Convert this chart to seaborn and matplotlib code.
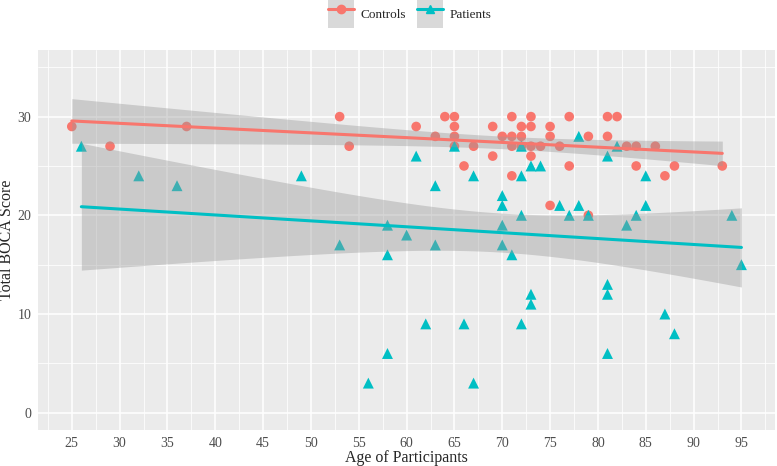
import numpy as np
import pandas as pd
import seaborn as sns
import matplotlib.pyplot as plt
from matplotlib.lines import Line2D
from matplotlib.patches import Patch

# Controls (age, score)
ctrl_age = [25, 29, 37, 53, 54, 61, 63, 64, 65, 65, 65, 65, 66, 67, 69, 69, 70, 71, 71, 71,
            71, 72, 72, 72, 73, 73, 73, 73, 74, 75, 75, 75, 76, 77, 77, 79, 79, 81, 81, 82,
            83, 84, 84, 86, 87, 88, 93]
ctrl_score = [29, 27, 29, 30, 27, 29, 28, 30, 30, 29, 28, 27, 25, 27, 29, 26, 28, 30, 28, 27,
              24, 29, 28, 27, 30, 29, 27, 26, 27, 29, 28, 21, 27, 30, 25, 28, 20, 30, 28, 30,
              27, 27, 25, 27, 24, 25, 25]

# Patients (age, score)
pat_age = [26, 32, 36, 49, 53, 56, 58, 58, 58, 60, 61, 62, 63, 63, 65, 66, 67, 67, 70, 70,
           70, 70, 71, 72, 72, 72, 72, 73, 73, 73, 74, 76, 77, 78, 78, 79, 81, 81, 81, 81,
           82, 83, 84, 85, 85, 87, 88, 94, 95]
pat_score = [27, 24, 23, 24, 17, 3, 19, 16, 6, 18, 26, 9, 23, 17, 27, 9, 24, 3, 22, 21,
             19, 17, 16, 27, 24, 20, 9, 25, 12, 11, 25, 21, 20, 28, 21, 20, 26, 13, 12, 6,
             27, 19, 20, 24, 21, 10, 8, 20, 15]

groups = ["Controls", "Patients"]
colors = {"Controls": "#F8766D", "Patients": "#00BFC4"}
markers = {"Controls": "o", "Patients": "^"}

df = pd.DataFrame({
    "Age": ctrl_age + pat_age,
    "Score": ctrl_score + pat_score,
    "Group": ["Controls"] * len(ctrl_age) + ["Patients"] * len(pat_age),
})


def lm_band(x, y, n=80):
    # 95% confidence band of a simple linear fit (like geom_smooth(method = "lm"))
    x = np.asarray(x, float)
    y = np.asarray(y, float)
    b, a = np.polyfit(x, y, 1)
    grid = np.linspace(x.min(), x.max(), n)
    resid = y - (a + b * x)
    dof = len(x) - 2
    s = np.sqrt(np.sum(resid ** 2) / dof)
    sxx = np.sum((x - x.mean()) ** 2)
    se = s * np.sqrt(1 / len(x) + (grid - x.mean()) ** 2 / sxx)
    t = 2.0141 if dof == 45 else 2.0117
    fit = a + b * grid
    return grid, fit - t * se, fit + t * se


sns.set_style("darkgrid", {"axes.facecolor": "#EBEBEB", "grid.color": "white"})
plt.rcParams["font.family"] = ["Liberation Serif", "DejaVu Serif"]

fig = plt.figure(figsize=(7.77, 4.66), dpi=100)
ax = fig.add_axes([0.0493, 0.0773, 0.948, 0.8154])

for g in groups:
    sub = df[df["Group"] == g]
    sns.scatterplot(data=sub, x="Age", y="Score", color=colors[g], marker=markers[g],
                    s=48 if g == "Controls" else 62, edgecolor="none", ax=ax, zorder=2,
                    legend=False)

for g in groups:
    sub = df[df["Group"] == g]
    gx, lo, hi = lm_band(sub["Age"], sub["Score"])
    ax.fill_between(gx, lo, hi, color="#999999", alpha=0.4, lw=0, zorder=3)
    sns.regplot(data=sub, x="Age", y="Score", scatter=False, ci=None,
                color=colors[g], line_kws={"lw": 2.2, "zorder": 4}, ax=ax)

ax.set_xlim(21.5, 98.5)
ax.set_ylim(-1.75, 36.75)
ax.set_xticks(np.arange(25, 96, 5))
ax.set_xticks(np.arange(22.5, 98.5, 5), minor=True)
ax.set_yticks([0, 10, 20, 30])
ax.set_yticks([5, 15, 25, 35], minor=True)
ax.grid(which="major", color="white", lw=1.1)
ax.grid(which="minor", color="white", lw=0.55)
ax.tick_params(which="major", length=3, width=0.8, color="#333333", labelsize=10,
               labelcolor="#4D4D4D", pad=2)
ax.tick_params(which="minor", length=0)
for s in ax.spines.values():
    s.set_visible(False)
ax.set_xlabel("Age of Participants", fontsize=11.5)
ax.set_ylabel("Total BOCA Score", fontsize=11.5)
ax.xaxis.set_label_coords(0.5, -0.053)
ax.yaxis.set_label_coords(-0.031, 0.5)

handles = []
for g in groups:
    handles.append((Patch(facecolor="#D9D9D9", edgecolor="none"),
                    Line2D([], [], color=colors[g], lw=2.2, marker=markers[g], markersize=6)))
fig.legend(handles, groups, loc="center", bbox_to_anchor=(0.527, 1 - 14 / 466), ncol=2,
           frameon=False, fontsize=9.5, handlelength=2.0, handleheight=2.8,
           columnspacing=0.8, handletextpad=0.5, borderpad=0)

fig.savefig("out.png", dpi=100)
